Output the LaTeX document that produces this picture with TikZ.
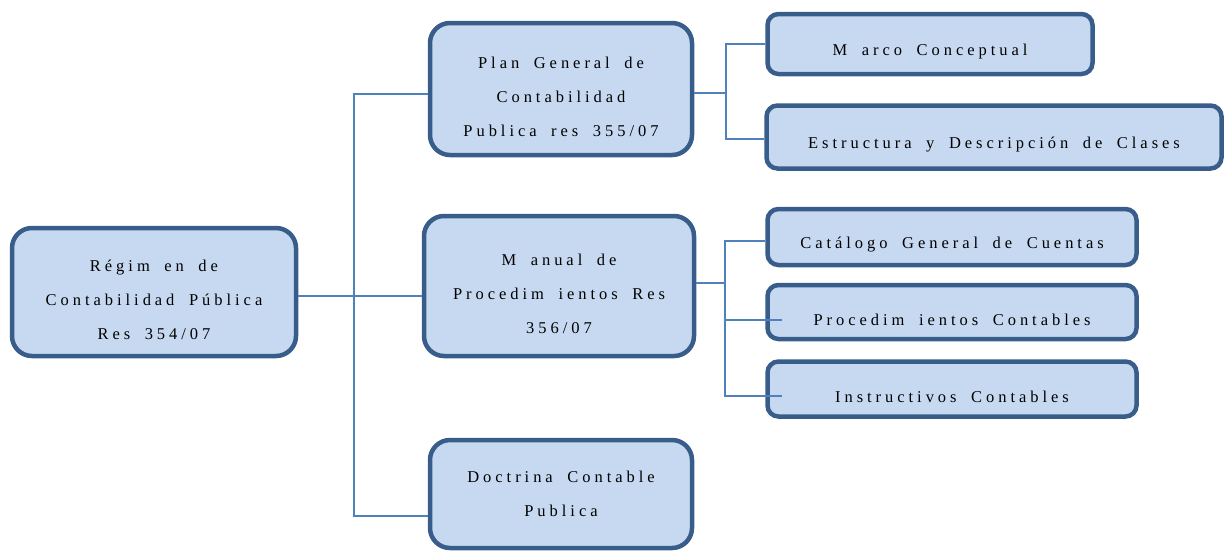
\documentclass[tikz,border=0pt]{standalone}
\usepackage{fontspec}
\setmainfont{Liberation Serif}[LetterSpace=24, WordSpace=1.8]
\usetikzlibrary{positioning}
\definecolor{boxline}{RGB}{56,93,138}
\definecolor{boxfill}{RGB}{198,217,241}
\definecolor{linkline}{RGB}{79,129,189}
\newcommand{\lowtext}{\rule{0pt}{27pt}}
\tikzset{
  box/.style={draw=boxline, fill=boxfill, line width=4.5pt, rounded corners=20pt,
    align=center, font=\fontsize{16.5}{34}\selectfont, inner sep=0pt},
  subbox/.style={box, rounded corners=11pt},
  link/.style={draw=linkline, line width=2.4pt}
}

\begin{document}
\begin{tikzpicture}[x=1pt, y=-1pt]
\useasboundingbox (0,0) rectangle (1225,550);

% main boxes
\node[box, minimum width=284, minimum height=128] (root) at (154,292)
  {\lowtext Régim en de\\Contabilidad Pública\\Res 354/07};
\node[box, minimum width=262, minimum height=132] (plan) at (561,89)
  {\lowtext Plan General de\\Contabilidad\\Publica res 355/07};
\node[box, minimum width=270, minimum height=140] (manual) at (559,286)
  {\lowtext M anual de\\Procedim ientos Res\\356/07};
\node[box, minimum width=262, minimum height=108] (doct) at (561,494)
  {Doctrina Contable\\Publica};

% sub boxes
\node[subbox, minimum width=325, minimum height=60] (marco) at (930,44) {\lowtext M arco Conceptual};
\node[subbox, minimum width=455, minimum height=63] (estr) at (994,137) {\lowtext Estructura y Descripción de Clases};
\node[subbox, minimum width=369, minimum height=56] (cat) at (952,237) {\lowtext Catálogo General de Cuentas};
\node[subbox, minimum width=369, minimum height=54] (proc) at (952,312) {\lowtext Procedim ientos Contables};
\node[subbox, minimum width=369, minimum height=55] (inst) at (952,389) {\lowtext Instructivos Contables};

% connectors
\coordinate (trunk) at (354,0);
\coordinate (planfork) at (726,0);
\coordinate (manfork) at (725,0);
\draw[link] ([yshift=-4pt]root.east) -- ([yshift=-4pt]root.east -| manual.west);
\draw[link] ([yshift=-5pt]plan.west) -- ([yshift=-5pt]plan.west -| trunk)
  -- ([yshift=-22pt]doct.west -| trunk) -- ([yshift=-22pt]doct.west);

\draw[link] ([yshift=-4pt]plan.east) -- ([yshift=-4pt]plan.east -| planfork);
\draw[link] (marco.west) -| ([yshift=-2pt]estr.west -| planfork) -- ([yshift=-2pt]estr.west);

\draw[link] ([yshift=3pt]manual.east) -- ([yshift=3pt]manual.east -| manfork);
\draw[link] ([yshift=-4pt]cat.west) -| ([yshift=-7pt]inst.west -| manfork)
  -- ([xshift=17pt,yshift=-7pt]inst.west);
\draw[link] ([yshift=-8pt]proc.west -| manfork) -- ([xshift=17pt,yshift=-8pt]proc.west);
\end{tikzpicture}
\end{document}
